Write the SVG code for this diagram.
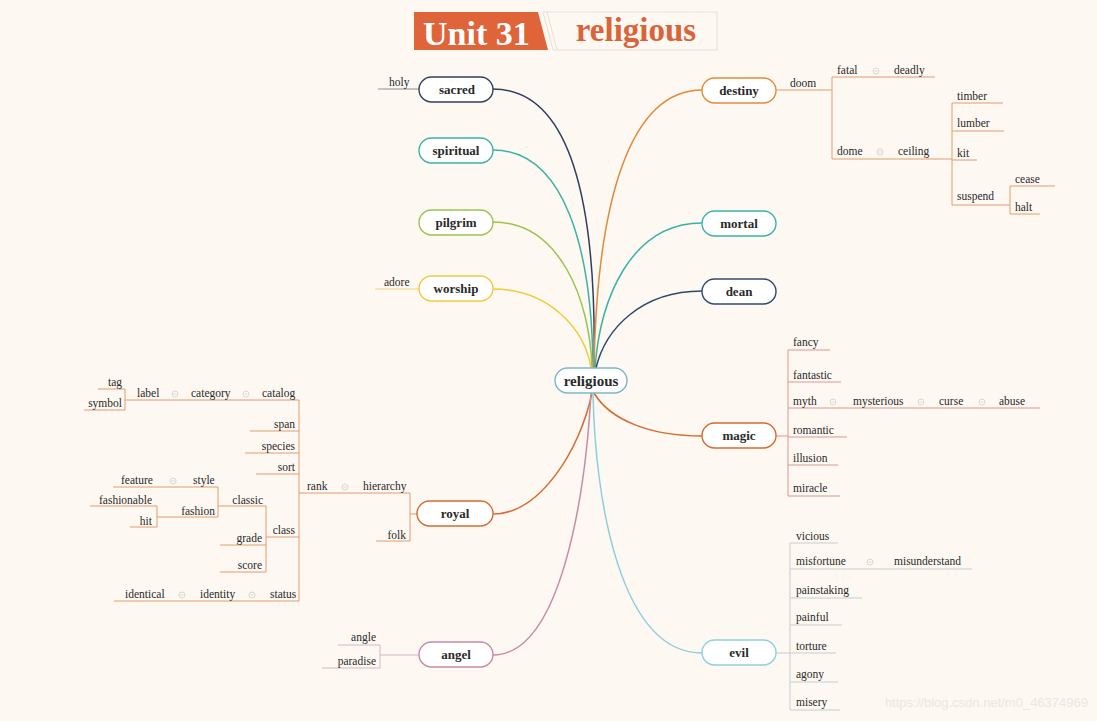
<svg xmlns="http://www.w3.org/2000/svg" width="1097" height="721" viewBox="0 0 1097 721">
<style>
text{font-family:"Liberation Serif","Times New Roman",serif;fill:#2a2a2a}
.n{font-size:13px;font-weight:bold;text-anchor:middle}
.s{font-size:11.5px}
.e{text-anchor:end}
.box{fill:#ffffff;stroke-width:1.4}
.c{fill:none;stroke-width:1.5}
.o{fill:none;stroke:#e49c6c;stroke-width:1}
.m{fill:none;stroke:#dc9890;stroke-width:1}
.g{fill:none;stroke:#cacbd0;stroke-width:1}
.p{fill:none;stroke:#d6b6c6;stroke-width:1}
</style>
<defs>
<g id="col"><circle r="3" fill="none" stroke="#d8d2c8" stroke-width="0.9"/><line x1="-1.6" y1="0" x2="1.6" y2="0" stroke="#d8d2c8" stroke-width="0.9"/></g>
</defs>
<rect width="1097" height="721" fill="#fdf8f2"/>
<g id="title">
<polygon points="414,12 538,12 548,50 414,50" fill="#e0643a"/>
<polygon points="543,12 717,12 717,50 553,50" fill="#fdf8f2" stroke="#eadfd3" stroke-width="1"/>
<line x1="547" y1="12" x2="557" y2="50" stroke="#eadfd3" stroke-width="1"/>
<text x="423" y="45" style="font-size:34px;font-weight:bold;fill:#ffffff">Unit 31</text>
<text x="636" y="41" style="font-size:33px;font-weight:bold;fill:#d9643a;text-anchor:middle">religious</text>
</g>
<g id="connectors">
<path class="c" stroke="#2f3f5e" d="M493 89 C570 89 597 200 594 368"/>
<path class="c" stroke="#3ab3a6" d="M493 150 C565 150 592 250 593 368"/>
<path class="c" stroke="#9dc24e" d="M493 222 C560 222 590 300 592 368"/>
<path class="c" stroke="#f1cb3c" d="M493 289 C550 289 585 330 591 368"/>
<path class="c" stroke="#e38a3a" d="M702 90 C630 90 597 200 594 368"/>
<path class="c" stroke="#3ab3a6" d="M702 223 C630 223 600 300 595 368"/>
<path class="c" stroke="#2f4a6c" d="M702 291 C640 291 605 330 596 368"/>
<path class="c" stroke="#d9692e" d="M594 393 C610 420 650 436 702 436"/>
<path class="c" stroke="#d9692e" d="M493 514 C540 514 580 450 592 393"/>
<path class="c" stroke="#c98aa8" d="M493 655 C560 655 585 500 591 393"/>
<path class="c" stroke="#8dd0dc" d="M702 653 C620 653 595 500 593 393"/>
<path fill="none" stroke="#8a8d96" stroke-width="1" d="M378 89 H419"/>
<path fill="none" stroke="#f0d27a" stroke-width="1" d="M375 289 H419"/>
<path class="o" d="M776 90 H832 M832 77 V159 M832 77 H935 M832 159 H952 M952 103 V205 M952 103 H1003 M952 131 H1004 M952 160 H977 M952 205 H1010 M1010 186 V214 M1010 186 H1055 M1010 214 H1040"/>
<path class="o" d="M417 514 H410 M410 493 V541 M299 493 H410 M376 541 H410 M299 400 V601 M125 400 H299 M125 389 V410 M98 389 H125 M84 410 H125 M250 431 H299 M245 453 H299 M256 474 H299 M266 537 H299 M266 506 V572 M218 506 H266 M218 487 V517 M113 487 H218 M157 517 H218 M157 506 V527 M90 506 H157 M130 527 H157 M220 545 H266 M220 572 H266 M114 601 H299"/>
<path class="m" d="M776 436 H788 M788 350 V496 M788 350 H830 M788 382 H841 M788 408 H1040 M788 437 H847 M788 465 H838 M788 496 H840"/>
<path class="g" d="M776 653 H790 M790 543 V710 M790 543 H838 M790 569 H972 M790 598 H862 M790 625 H842 M790 653 H836 M790 682 H838 M790 710 H840"/>
<path class="p" d="M419 655 H380 M380 645 V668 M338 645 H380 M322 668 H380"/>
</g>
<g id="religious"><rect class="box" x="555" y="368" width="72" height="25" rx="12.5" stroke="#7fb6c9"/><text class="n" x="591" y="386" style="font-size:15px">religious</text></g>
<g id="sacred"><rect class="box" x="419" y="77" width="74" height="25" rx="12.5" stroke="#2f3f5e"/><text class="n" x="457" y="93.5">sacred</text></g>
<g id="spiritual"><rect class="box" x="419" y="138" width="74" height="25" rx="12.5" stroke="#3ab3a6"/><text class="n" x="456" y="154.5">spiritual</text></g>
<g id="pilgrim"><rect class="box" x="419" y="210" width="74" height="25" rx="12.5" stroke="#9dc24e"/><text class="n" x="456" y="226.5">pilgrim</text></g>
<g id="worship"><rect class="box" x="419" y="276" width="74" height="25" rx="12.5" stroke="#f1cb3c"/><text class="n" x="456" y="292.5">worship</text></g>
<g id="destiny"><rect class="box" x="702" y="78" width="74" height="25" rx="12.5" stroke="#e38a3a"/><text class="n" x="739" y="94.5">destiny</text></g>
<g id="mortal"><rect class="box" x="702" y="211" width="74" height="25" rx="12.5" stroke="#3ab3a6"/><text class="n" x="739" y="227.5">mortal</text></g>
<g id="dean"><rect class="box" x="702" y="279" width="74" height="25" rx="12.5" stroke="#2f4a6c"/><text class="n" x="739" y="295.5">dean</text></g>
<g id="magic"><rect class="box" x="702" y="423" width="74" height="25" rx="12.5" stroke="#d9692e"/><text class="n" x="739" y="439.5">magic</text></g>
<g id="royal"><rect class="box" x="417" y="501" width="76" height="25" rx="12.5" stroke="#d9692e"/><text class="n" x="455" y="517.5">royal</text></g>
<g id="angel"><rect class="box" x="419" y="642" width="74" height="25" rx="12.5" stroke="#c98aa8"/><text class="n" x="456" y="658.5">angel</text></g>
<g id="evil"><rect class="box" x="702" y="640" width="74" height="25" rx="12.5" stroke="#8dd0dc"/><text class="n" x="739" y="656.5">evil</text></g>
<g id="labels">
<text class="s" x="389" y="86">holy</text>
<text class="s" x="384" y="286">adore</text>
<text class="s" x="790" y="87">doom</text>
<text class="s" x="837" y="74">fatal</text><use href="#col" x="876" y="71"/><text class="s" x="894" y="74">deadly</text>
<text class="s" x="837" y="155">dome</text><use href="#col" x="880" y="152"/><text class="s" x="898" y="155">ceiling</text>
<text class="s" x="957" y="100">timber</text>
<text class="s" x="957" y="127">lumber</text>
<text class="s" x="957" y="157">kit</text>
<text class="s" x="957" y="200">suspend</text>
<text class="s" x="1015" y="183">cease</text>
<text class="s" x="1015" y="211">halt</text>
<text class="s" x="307" y="490">rank</text><use href="#col" x="345" y="487"/><text class="s" x="363" y="490">hierarchy</text>
<text class="s e" x="406" y="539">folk</text>
<text class="s" x="137" y="397">label</text><use href="#col" x="175" y="394"/><text class="s" x="191" y="397">category</text><use href="#col" x="246" y="394"/><text class="s" x="262" y="397">catalog</text>
<text class="s e" x="122" y="386">tag</text>
<text class="s e" x="122" y="407">symbol</text>
<text class="s e" x="295" y="428">span</text>
<text class="s e" x="295" y="450">species</text>
<text class="s e" x="295" y="471">sort</text>
<text class="s e" x="295" y="534">class</text>
<text class="s e" x="263" y="504">classic</text>
<text class="s" x="121" y="484">feature</text><use href="#col" x="173" y="481"/><text class="s" x="193" y="484">style</text>
<text class="s e" x="215" y="515">fashion</text>
<text class="s e" x="152" y="504">fashionable</text>
<text class="s e" x="152" y="525">hit</text>
<text class="s e" x="262" y="542">grade</text>
<text class="s e" x="262" y="569">score</text>
<text class="s" x="125" y="598">identical</text><use href="#col" x="182" y="595"/><text class="s" x="200" y="598">identity</text><use href="#col" x="252" y="595"/><text class="s" x="270" y="598">status</text>
<text class="s" x="793" y="346">fancy</text>
<text class="s" x="793" y="379">fantastic</text>
<text class="s" x="793" y="405">myth</text><use href="#col" x="833" y="402"/><text class="s" x="853" y="405">mysterious</text><use href="#col" x="921" y="402"/><text class="s" x="939" y="405">curse</text><use href="#col" x="982" y="402"/><text class="s" x="999" y="405">abuse</text>
<text class="s" x="793" y="434">romantic</text>
<text class="s" x="793" y="462">illusion</text>
<text class="s" x="793" y="492">miracle</text>
<text class="s" x="796" y="540">vicious</text>
<text class="s" x="796" y="565">misfortune</text><use href="#col" x="870" y="562"/><text class="s" x="894" y="565">misunderstand</text>
<text class="s" x="796" y="594">painstaking</text>
<text class="s" x="796" y="621">painful</text>
<text class="s" x="796" y="650">torture</text>
<text class="s" x="796" y="678">agony</text>
<text class="s" x="796" y="706">misery</text>
<text class="s e" x="376" y="641">angle</text>
<text class="s e" x="376" y="665">paradise</text>
</g>
<text x="1088" y="707" style="font-family:'Liberation Sans',Arial,sans-serif;font-size:13px;fill:#ece7e2;text-anchor:end">https://blog.csdn.net/m0_46374969</text>
</svg>
